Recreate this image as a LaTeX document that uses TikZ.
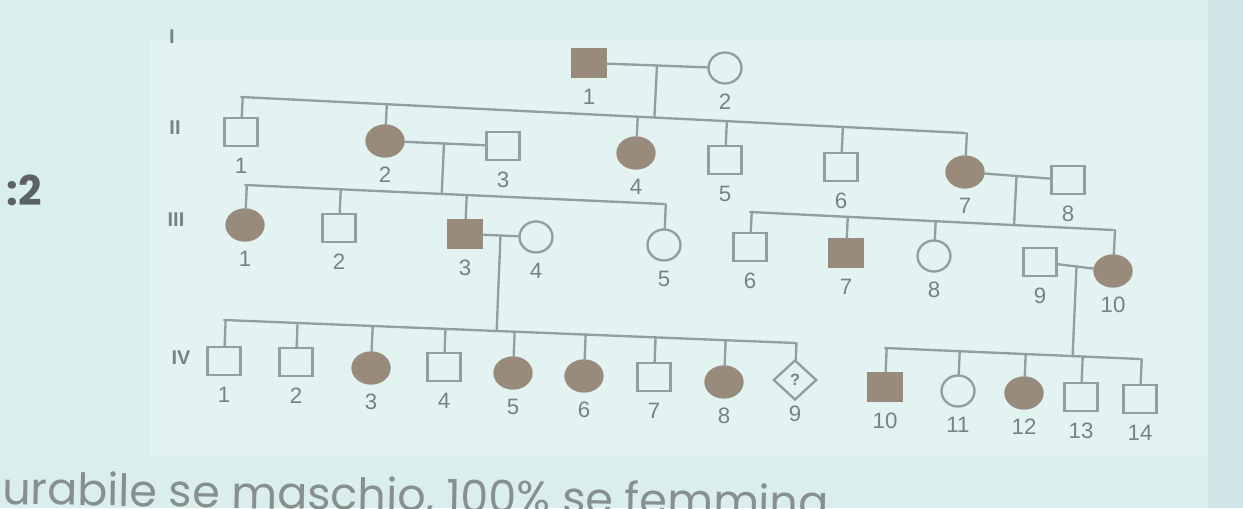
\documentclass[tikz,border=0pt]{standalone}
\usepackage{fontspec}
\setmainfont{Liberation Sans}
\newfontfamily\fontSlide{Poppins}
\usetikzlibrary{shapes.geometric, calc}
\definecolor{sfondo}{RGB}{219,238,238}
\definecolor{pannello}{RGB}{226,243,242}
\definecolor{bordoDestro}{RGB}{210,229,230}
\definecolor{grigioLinea}{RGB}{148,158,158}
\definecolor{marroneMalato}{RGB}{153,139,124}
\definecolor{grigioNumero}{RGB}{122,129,129}
\definecolor{grigioTesto}{RGB}{136,143,143}
\definecolor{grigioScuro}{RGB}{92,98,98}

\begin{document}
\begin{tikzpicture}[x=0.03cm, y=-0.03cm,
    individuo/.style={draw=grigioLinea, line width=2pt, inner sep=0pt},
    maschio/.style={individuo, rectangle, minimum width=0.99cm, minimum height=0.84cm},
    femmina/.style={individuo, ellipse, minimum width=0.99cm, minimum height=0.93cm},
    maschioAff/.style={maschio, draw=marroneMalato, fill=marroneMalato},
    femminaAff/.style={individuo, ellipse, draw=marroneMalato, fill=marroneMalato, minimum width=1.11cm, minimum height=0.93cm},
    ignoto/.style={individuo, diamond, minimum width=1.3cm, minimum height=1.2cm, font=\bfseries\fontsize{14}{14}\selectfont, text=grigioNumero},
    num/.style={font=\fontsize{19}{19}\selectfont, text=grigioNumero},
    gen/.style={font=\bfseries\fontsize{17}{17}\selectfont, text=grigioNumero},
    ramo/.style={draw=grigioLinea, line width=2pt, line cap=round}
]
    \useasboundingbox (0,0) rectangle (1243,508);
    \clip (0,0) rectangle (1243,508);
    \fill[sfondo] (0,0) rectangle (1243,508);
    \fill[pannello] (150,40) rectangle (1208,456);
    \fill[bordoDestro] (1208,0) rectangle (1243,508);

    \node[gen] (gI) at (172,37) {I};
    \node[gen] (gII) at (175,128) {II};
    \node[gen] (gIII) at (176,220) {III};
    \node[gen] (gIV) at (181,358) {IV};

    % I
    \node[maschioAff] (I-1) at (589,63) {};
    \node[femmina] (I-2) at (725,68) {};
    \foreach \n in {1,2}
        \node[num] (I-\n-n) at ([yshift=-1.02cm]I-\n.center) {\n};

    % II
    \foreach \n/\x/\y/\s in {1/241/132/maschio, 2/385/141/femminaAff, 3/503/146/maschio, 4/636/153/femminaAff,
                            5/725/160/maschio, 6/841/167/maschio, 7/965/172/femminaAff, 8/1068/180/maschio}{
        \node[\s] (II-\n) at (\x,\y) {};
        \node[num] (II-\n-n) at ([yshift=-1.02cm]II-\n.center) {\n};
    }

    % III
    \foreach \n/\x/\y/\s in {1/245/225/femminaAff, 2/339/228/maschio, 3/465/234/maschioAff, 4/536/237/femmina,
                            5/664/245/femmina, 6/750/247/maschio, 7/846/253/maschioAff, 8/934/256/femmina,
                            9/1040/262/maschio, 10/1113/271/femminaAff}{
        \node[\s] (III-\n) at (\x,\y) {};
        \node[num] (III-\n-n) at ([yshift=-1.02cm]III-\n.center) {\n};
    }

    % IV
    \foreach \n/\x/\y/\s in {1/224/361/maschio, 2/296/362/maschio, 3/371/368/femminaAff, 4/444/367/maschio,
                            5/513/373/femminaAff, 6/584/376/femminaAff, 7/654/377/maschio, 8/724/382/femminaAff,
                            10/885/387/maschioAff, 11/958/391/femmina, 12/1024/393/femminaAff,
                            13/1081/397/maschio, 14/1140/399/maschio}
        \node[\s] (IV-\n) at (\x,\y) {};
    \node[ignoto] (IV-9) at (795,380) {?};
    \foreach \n in {1,...,14}
        \node[num] (IV-\n-n) at ([yshift=-1.02cm]IV-\n.center) {\n};

    % coppie
    \draw[ramo] (I-1) -- (I-2);
    \draw[ramo] (II-2) -- (II-3);
    \draw[ramo] (II-7) -- (II-8);
    \draw[ramo] (III-3) -- (III-4);
    \draw[ramo] (III-9) -- (III-10);
    \coordinate (mI) at ($(I-1)!0.5!(I-2)$);
    \coordinate (mII23) at ($(II-2)!0.5!(II-3)$);
    \coordinate (mII78) at ($(II-7)!0.5!(II-8)$);
    \coordinate (mIII34) at ($(III-3)!0.5!(III-4)$);
    \coordinate (mIII910) at ($(III-9)!0.5!(III-10)$);

    % fratrie
    \coordinate (sII-a) at (241,97);   \coordinate (sII-b) at (965,133);
    \coordinate (sIIIa-a) at (245,185); \coordinate (sIIIa-b) at (664,204);
    \coordinate (sIIIb-a) at (750,212); \coordinate (sIIIb-b) at (1113,230);
    \coordinate (sIVa-a) at (224,320);  \coordinate (sIVa-b) at (795,343);
    \coordinate (sIVb-a) at (885,348);  \coordinate (sIVb-b) at (1140,359);
    \foreach \s in {sII, sIIIa, sIIIb, sIVa, sIVb}
        \draw[ramo] (\s-a) -- (\s-b);

    \draw[ramo] (mI) -- ($(sII-a)!(mI)!(sII-b)$);
    \draw[ramo] (mII23) -- ($(sIIIa-a)!(mII23)!(sIIIa-b)$);
    \draw[ramo] (mII78) -- ($(sIIIb-a)!(mII78)!(sIIIb-b)$);
    \draw[ramo] (mIII34) -- ($(sIVa-a)!(mIII34)!(sIVa-b)$);
    \draw[ramo] (mIII910) -- ($(sIVb-a)!(mIII910)!(sIVb-b)$);

    \foreach \c in {II-1, II-2, II-4, II-5, II-6, II-7}
        \draw[ramo] ($(sII-a)!(\c)!(sII-b)$) -- (\c);
    \foreach \c in {III-1, III-2, III-3, III-5}
        \draw[ramo] ($(sIIIa-a)!(\c)!(sIIIa-b)$) -- (\c);
    \foreach \c in {III-6, III-7, III-8, III-10}
        \draw[ramo] ($(sIIIb-a)!(\c)!(sIIIb-b)$) -- (\c);
    \foreach \c in {IV-1, IV-2, IV-3, IV-4, IV-5, IV-6, IV-7, IV-8, IV-9}
        \draw[ramo] ($(sIVa-a)!(\c)!(sIVa-b)$) -- (\c);
    \foreach \c in {IV-10, IV-11, IV-12, IV-13, IV-14}
        \draw[ramo] ($(sIVb-a)!(\c)!(sIVb-b)$) -- (\c);

    \node[anchor=east, font=\fontSlide\bfseries\fontsize{35}{35}\selectfont, text=grigioScuro] (rapporto) at (46,190) {:2};
    \node[anchor=base west, inner sep=0pt, rotate=-1, font=\fontSlide\fontsize{38}{38}\selectfont, text=grigioTesto] (nota) at (2,504) {urabile se maschio, 100\% se femmina};
\end{tikzpicture}
\end{document}
